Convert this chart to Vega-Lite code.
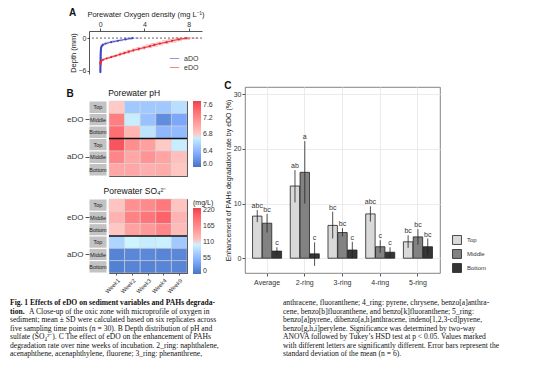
{
 "$schema": "https://vega.github.io/schema/vega-lite/v6.json",
 "padding": {"left": 10, "top": 8, "right": 2, "bottom": 2},
 "background": "white",
 "config": {
  "font": "Liberation Sans",
  "view": {"stroke": null},
  "axis": {"labelFontSize": 7, "titleFontSize": 7.5, "titleFontWeight": "normal", "labelColor": "#333", "titleColor": "#222", "domainColor": "#555", "tickColor": "#555", "tickSize": 3, "labelPadding": 1, "titlePadding": 2, "grid": false},
  "legend": {"labelFontSize": 7, "titleFontSize": 7, "titleFontWeight": "normal", "labelColor": "#333", "titleColor": "#222"},
  "title": {"fontSize": 10, "fontWeight": "bold", "color": "#111"}
 },
 "datasets": {
  "oxy": [
   {"t":"aDO","d":0,"m":2.9,"lo":2.2,"hi":3.6},
   {"t":"aDO","d":-0.25,"m":2.3,"lo":1.7,"hi":2.9},
   {"t":"aDO","d":-0.5,"m":1.6,"lo":1.1,"hi":2.1},
   {"t":"aDO","d":-0.75,"m":1.0,"lo":0.6,"hi":1.4},
   {"t":"aDO","d":-1.0,"m":0.5,"lo":0.2,"hi":0.8},
   {"t":"aDO","d":-1.25,"m":0.25,"lo":0.05,"hi":0.45},
   {"t":"aDO","d":-1.5,"m":0.15,"lo":0.05,"hi":0.25},
   {"t":"aDO","d":-1.75,"m":0.1,"lo":0.02,"hi":0.18},
   {"t":"aDO","d":-2.0,"m":0.08,"lo":0.03,"hi":0.13},
   {"t":"aDO","d":-2.25,"m":0.07,"lo":0.03,"hi":0.11},
   {"t":"aDO","d":-2.5,"m":0.06,"lo":0.02,"hi":0.1},
   {"t":"aDO","d":-2.75,"m":0.06,"lo":0.02,"hi":0.1},
   {"t":"aDO","d":-3.0,"m":0.05,"lo":0.02,"hi":0.08},
   {"t":"aDO","d":-3.25,"m":0.05,"lo":0.02,"hi":0.08},
   {"t":"aDO","d":-3.5,"m":0.05,"lo":0.02,"hi":0.08},
   {"t":"aDO","d":-3.75,"m":0.05,"lo":0.02,"hi":0.08},
   {"t":"aDO","d":-4.0,"m":0.04,"lo":0.01,"hi":0.07},
   {"t":"aDO","d":-4.25,"m":0.04,"lo":0.01,"hi":0.07},
   {"t":"aDO","d":-4.5,"m":0.04,"lo":0.02,"hi":0.06},
   {"t":"aDO","d":-4.75,"m":0.04,"lo":0.02,"hi":0.06},
   {"t":"aDO","d":-5.0,"m":0.04,"lo":0.02,"hi":0.06},
   {"t":"aDO","d":-5.25,"m":0.03,"lo":0.01,"hi":0.05},
   {"t":"aDO","d":-5.5,"m":0.03,"lo":0.01,"hi":0.05},
   {"t":"aDO","d":-5.75,"m":0.03,"lo":0.01,"hi":0.05},
   {"t":"aDO","d":-6.0,"m":0.03,"lo":0.01,"hi":0.05},
   {"t":"aDO","d":-6.25,"m":0.03,"lo":0.01,"hi":0.05},
   {"t":"eDO","d":0,"m":7.8,"lo":6.7,"hi":8.9},
   {"t":"eDO","d":-0.25,"m":7.1,"lo":6.1,"hi":8.1},
   {"t":"eDO","d":-0.5,"m":6.5,"lo":5.6,"hi":7.4},
   {"t":"eDO","d":-0.75,"m":6.0,"lo":5.1,"hi":6.9},
   {"t":"eDO","d":-1.0,"m":5.4,"lo":4.6,"hi":6.2},
   {"t":"eDO","d":-1.25,"m":4.9,"lo":4.1,"hi":5.7},
   {"t":"eDO","d":-1.5,"m":4.5,"lo":3.8,"hi":5.2},
   {"t":"eDO","d":-1.75,"m":4.0,"lo":3.3,"hi":4.7},
   {"t":"eDO","d":-2.0,"m":3.5,"lo":2.9,"hi":4.1},
   {"t":"eDO","d":-2.25,"m":3.0,"lo":2.4,"hi":3.6},
   {"t":"eDO","d":-2.5,"m":2.6,"lo":2.1,"hi":3.1},
   {"t":"eDO","d":-2.75,"m":2.2,"lo":1.7,"hi":2.7},
   {"t":"eDO","d":-3.0,"m":1.8,"lo":1.4,"hi":2.2},
   {"t":"eDO","d":-3.25,"m":1.4,"lo":1.0,"hi":1.8},
   {"t":"eDO","d":-3.5,"m":1.0,"lo":0.7,"hi":1.3},
   {"t":"eDO","d":-3.75,"m":0.6,"lo":0.3,"hi":0.9},
   {"t":"eDO","d":-4.0,"m":0.25,"lo":0.05,"hi":0.45},
   {"t":"eDO","d":-4.25,"m":0.1,"lo":0.0,"hi":0.2},
   {"t":"eDO","d":-4.5,"m":0.05,"lo":0.0,"hi":0.1},
   {"t":"eDO","d":-4.75,"m":0.03,"lo":0.0,"hi":0.06}
  ],
  "strip": [
   {"row":"eDO Top","p":"Top"},{"row":"eDO Middle","p":"Middle"},{"row":"eDO Bottom","p":"Bottom"},
   {"row":"aDO Top","p":"Top"},{"row":"aDO Middle","p":"Middle"},{"row":"aDO Bottom","p":"Bottom"}
  ],
  "divider": [{"row":"aDO Top"}],
  "ph": [
   {"row":"eDO Top","w":"Week1","v":6.8},{"row":"eDO Top","w":"Week2","v":6.5},{"row":"eDO Top","w":"Week3","v":6.5},{"row":"eDO Top","w":"Week4","v":6.5},{"row":"eDO Top","w":"Week9","v":6.62},
   {"row":"eDO Middle","w":"Week1","v":7.25},{"row":"eDO Middle","w":"Week2","v":6.7},{"row":"eDO Middle","w":"Week3","v":6.45},{"row":"eDO Middle","w":"Week4","v":6.15},{"row":"eDO Middle","w":"Week9","v":6.3},
   {"row":"eDO Bottom","w":"Week1","v":7.35},{"row":"eDO Bottom","w":"Week2","v":6.92},{"row":"eDO Bottom","w":"Week3","v":6.65},{"row":"eDO Bottom","w":"Week4","v":6.4},{"row":"eDO Bottom","w":"Week9","v":6.42},
   {"row":"aDO Top","w":"Week1","v":7.5},{"row":"aDO Top","w":"Week2","v":7.15},{"row":"aDO Top","w":"Week3","v":7.05},{"row":"aDO Top","w":"Week4","v":6.8},{"row":"aDO Top","w":"Week9","v":6.7},
   {"row":"aDO Middle","w":"Week1","v":7.2},{"row":"aDO Middle","w":"Week2","v":7.0},{"row":"aDO Middle","w":"Week3","v":7.12},{"row":"aDO Middle","w":"Week4","v":7.02},{"row":"aDO Middle","w":"Week9","v":6.85},
   {"row":"aDO Bottom","w":"Week1","v":7.0},{"row":"aDO Bottom","w":"Week2","v":7.0},{"row":"aDO Bottom","w":"Week3","v":6.95},{"row":"aDO Bottom","w":"Week4","v":6.98},{"row":"aDO Bottom","w":"Week9","v":6.82}
  ],
  "so4": [
   {"row":"eDO Top","w":"Week1","v":115},{"row":"eDO Top","w":"Week2","v":160},{"row":"eDO Top","w":"Week3","v":165},{"row":"eDO Top","w":"Week4","v":180},{"row":"eDO Top","w":"Week9","v":115},
   {"row":"eDO Middle","w":"Week1","v":130},{"row":"eDO Middle","w":"Week2","v":172},{"row":"eDO Middle","w":"Week3","v":182},{"row":"eDO Middle","w":"Week4","v":200},{"row":"eDO Middle","w":"Week9","v":128},
   {"row":"eDO Bottom","w":"Week1","v":112},{"row":"eDO Bottom","w":"Week2","v":145},{"row":"eDO Bottom","w":"Week3","v":152},{"row":"eDO Bottom","w":"Week4","v":168},{"row":"eDO Bottom","w":"Week9","v":122},
   {"row":"aDO Top","w":"Week1","v":78},{"row":"aDO Top","w":"Week2","v":102},{"row":"aDO Top","w":"Week3","v":95},{"row":"aDO Top","w":"Week4","v":98},{"row":"aDO Top","w":"Week9","v":68},
   {"row":"aDO Middle","w":"Week1","v":12},{"row":"aDO Middle","w":"Week2","v":15},{"row":"aDO Middle","w":"Week3","v":16},{"row":"aDO Middle","w":"Week4","v":14},{"row":"aDO Middle","w":"Week9","v":15},
   {"row":"aDO Bottom","w":"Week1","v":10},{"row":"aDO Bottom","w":"Week2","v":13},{"row":"aDO Bottom","w":"Week3","v":12},{"row":"aDO Bottom","w":"Week4","v":14},{"row":"aDO Bottom","w":"Week9","v":14}
  ],
  "pah": [
   {"c":"Average","p":"Top","m":7.7,"lo":6.6,"hi":8.8,"lab":"abc"},
   {"c":"Average","p":"Middle","m":6.4,"lo":4.7,"hi":8.1,"lab":"bc"},
   {"c":"Average","p":"Bottom","m":1.3,"lo":0.6,"hi":2.0,"lab":"c"},
   {"c":"2-ring","p":"Top","m":13.2,"lo":10.2,"hi":16.1,"lab":"ab"},
   {"c":"2-ring","p":"Middle","m":15.7,"lo":10.0,"hi":21.4,"lab":"a"},
   {"c":"2-ring","p":"Bottom","m":0.8,"lo":-1.4,"hi":2.9,"lab":"c"},
   {"c":"3-ring","p":"Top","m":6.0,"lo":3.6,"hi":8.5,"lab":"bc"},
   {"c":"3-ring","p":"Middle","m":4.7,"lo":4.0,"hi":5.5,"lab":"bc"},
   {"c":"3-ring","p":"Bottom","m":1.5,"lo":0.0,"hi":3.0,"lab":"c"},
   {"c":"4-ring","p":"Top","m":8.1,"lo":6.7,"hi":9.5,"lab":"abc"},
   {"c":"4-ring","p":"Middle","m":2.1,"lo":1.0,"hi":3.3,"lab":"c"},
   {"c":"4-ring","p":"Bottom","m":1.1,"lo":0.1,"hi":2.0,"lab":"c"},
   {"c":"5-ring","p":"Top","m":3.0,"lo":1.9,"hi":4.2,"lab":"bc"},
   {"c":"5-ring","p":"Middle","m":3.9,"lo":2.5,"hi":5.3,"lab":"bc"},
   {"c":"5-ring","p":"Bottom","m":2.1,"lo":0.6,"hi":3.6,"lab":"bc"}
  ],
  "cap": [
   {"col":"L","ln":1,"s":"b","txt":"Fig. 1 Effects of eDO on sediment variables and PAHs degrada-"},
   {"col":"L","ln":2,"s":"b","txt":"tion."},
   {"col":"L","ln":2,"s":"n2","txt":"A Close-up of the oxic zone with microprofile of oxygen in"},
   {"col":"L","ln":3,"s":"n","txt":"sediment; mean ± SD were calculated based on six replicates across"},
   {"col":"L","ln":4,"s":"n","txt":"five sampling time points (n = 30). B Depth distribution of pH and"},
   {"col":"L","ln":5,"s":"n","txt":"sulfate (SO₄²⁻). C The effect of eDO on the enhancement of PAHs"},
   {"col":"L","ln":6,"s":"n","txt":"degradation rate over nine weeks of incubation. 2_ring: naphthalene,"},
   {"col":"L","ln":7,"s":"n","txt":"acenaphthene,   acenaphthylene,   fluorene;   3_ring:   phenanthrene,"},
   {"col":"R","ln":1,"s":"n","txt":"anthracene, fluoranthene; 4_ring: pyrene, chrysene, benzo[a]anthra-"},
   {"col":"R","ln":2,"s":"n","txt":"cene, benzo[b]fluoranthene, and benzo[k]fluoranthene; 5_ring:"},
   {"col":"R","ln":3,"s":"n","txt":"benzo[a]pyrene, dibenzo[a,h]anthracene, indeno[1,2,3-cd]pyrene,"},
   {"col":"R","ln":4,"s":"n","txt":"benzo[g,h,i]perylene. Significance was determined by two-way"},
   {"col":"R","ln":5,"s":"n","txt":"ANOVA followed by Tukey’s HSD test at p < 0.05. Values marked"},
   {"col":"R","ln":6,"s":"n","txt":"with different letters are significantly different. Error bars represent the"},
   {"col":"R","ln":7,"s":"n","txt":"standard deviation of the mean (n = 6)."}
  ]
 },
 "spacing": 4,
 "resolve": {"scale": {"color": "independent", "fill": "independent"}, "legend": {"color": "independent", "fill": "independent"}},
 "vconcat": [
  {
   "spacing": 8,
   "resolve": {"scale": {"color": "independent", "fill": "independent"}, "legend": {"color": "independent", "fill": "independent"}},
   "hconcat": [
    {"width": 48, "height": 1, "data": {"values": []}, "mark": "point"},
    {
     "spacing": 14,
     "resolve": {"scale": {"color": "independent"}, "legend": {"color": "independent"}},
     "vconcat": [
      {
       "width": 113, "height": 43,
       "title": {"text": "A", "anchor": "start", "frame": "bounds", "offset": -8},
       "data": {"name": "oxy"},
       "layer": [
        {"data": {"values": [{"d": 0}]}, "mark": {"type": "rule", "strokeDash": [2, 2], "color": "#222", "strokeWidth": 0.7},
         "encoding": {"y": {"field": "d", "type": "quantitative"}}},
        {"mark": {"type": "rule", "strokeWidth": 0.6, "opacity": 0.55},
         "encoding": {
          "x": {"field": "lo", "type": "quantitative", "scale": {"domain": [-1, 9.2], "nice": false, "zero": false}, "axis": {"orient": "top", "values": [0, 2, 4, 6, 8], "title": "Porewater Oxygen density (mg L⁻¹)"}},
          "x2": {"field": "hi"},
          "y": {"field": "d", "type": "quantitative", "scale": {"domain": [-6.6, 1.3], "nice": false, "zero": false}, "axis": {"values": [0, -2, -4, -6], "title": "Depth (mm)", "titlePadding": 1, "tickSize": 2}},
          "color": {"field": "t", "type": "nominal", "scale": {"domain": ["aDO", "eDO"], "range": ["#3d45c2", "#e8262b"]},
           "legend": {"title": null, "orient": "bottom-right", "symbolType": "stroke", "symbolSize": 90, "symbolStrokeWidth": 1, "labelFontSize": 7, "offset": 2, "rowPadding": 0, "padding": 1}}
         }},
        {"mark": {"type": "line", "strokeWidth": 0.9},
         "encoding": {
          "x": {"field": "m", "type": "quantitative"},
          "y": {"field": "d", "type": "quantitative"},
          "order": {"field": "d", "sort": "descending"},
          "color": {"field": "t", "type": "nominal"}
         }},
        {"mark": {"type": "point", "filled": true, "size": 5, "opacity": 1},
         "encoding": {
          "x": {"field": "m", "type": "quantitative"},
          "y": {"field": "d", "type": "quantitative"},
          "color": {"field": "t", "type": "nominal"}
         }}
       ]
      },
      {
       "spacing": 9,
       "resolve": {"scale": {"color": "independent"}, "legend": {"color": "independent"}},
       "vconcat": [
        {
         "bounds": "flush",
         "spacing": 2,
         "hconcat": [
          {
           "width": 18, "height": 75,
           "title": {"text": "B", "anchor": "start", "frame": "bounds", "offset": 2},
           "data": {"name": "strip"},
           "encoding": {"y": {"field": "row", "type": "nominal", "sort": ["eDO Top", "eDO Middle", "eDO Bottom", "aDO Top", "aDO Middle", "aDO Bottom"], "scale": {"paddingInner": 0, "paddingOuter": 0},
             "axis": {"title": null, "domain": false, "labelFontSize": 8, "tickSize": 4, "labelPadding": 2,
              "labelExpr": "datum.value == 'eDO Middle' ? 'eDO' : (datum.value == 'aDO Middle' ? 'aDO' : '')",
              "tickOpacity": {"condition": {"test": "indexof(datum.value, 'Middle') >= 0", "value": 1}, "value": 0}}}},
           "layer": [
            {"mark": {"type": "rect", "fill": "#c2c2c2", "stroke": "white", "strokeWidth": 1}, "encoding": {}},
            {"mark": {"type": "text", "fontSize": 5.5, "color": "#222"}, "encoding": {"text": {"field": "p"}}}
           ]
          },
          {
           "width": 78, "height": 75,
           "view": {"stroke": "#333", "strokeWidth": 1},
           "title": {"text": "Porewater pH", "anchor": "start", "fontSize": 8.5, "fontWeight": "normal", "offset": 3},
           "layer": [
            {"data": {"name": "ph"}, "mark": {"type": "rect", "stroke": "#d4d4d4", "strokeWidth": 0.5},
             "encoding": {
              "x": {"field": "w", "type": "nominal", "sort": ["Week1", "Week2", "Week3", "Week4", "Week9"], "axis": null, "scale": {"paddingInner": 0, "paddingOuter": 0}},
              "y": {"field": "row", "type": "nominal", "sort": ["eDO Top", "eDO Middle", "eDO Bottom", "aDO Top", "aDO Middle", "aDO Bottom"], "axis": null, "scale": {"paddingInner": 0, "paddingOuter": 0}},
              "color": {"field": "v", "type": "quantitative", "scale": {"domain": [6.0, 6.8, 7.6], "range": ["#4575c4", "#ffffff", "#e5434f"]},
               "legend": {"title": null, "values": [6.0, 6.4, 6.8, 7.2, 7.6], "format": ".1f", "gradientLength": 66, "gradientThickness": 8, "offset": 4, "labelFontSize": 7}}
             }},
            {"data": {"name": "divider"}, "mark": {"type": "rule", "strokeWidth": 1.6, "color": "#111"},
             "encoding": {"y": {"field": "row", "type": "nominal", "bandPosition": 0, "sort": ["eDO Top", "eDO Middle", "eDO Bottom", "aDO Top", "aDO Middle", "aDO Bottom"]}}}
           ]
          }
         ]
        },
        {
         "bounds": "flush",
         "spacing": 2,
         "hconcat": [
          {
           "width": 18, "height": 74,
           "data": {"name": "strip"},
           "encoding": {"y": {"field": "row", "type": "nominal", "sort": ["eDO Top", "eDO Middle", "eDO Bottom", "aDO Top", "aDO Middle", "aDO Bottom"], "scale": {"paddingInner": 0, "paddingOuter": 0},
             "axis": {"title": null, "domain": false, "labelFontSize": 8, "tickSize": 4, "labelPadding": 2,
              "labelExpr": "datum.value == 'eDO Middle' ? 'eDO' : (datum.value == 'aDO Middle' ? 'aDO' : '')",
              "tickOpacity": {"condition": {"test": "indexof(datum.value, 'Middle') >= 0", "value": 1}, "value": 0}}}},
           "layer": [
            {"mark": {"type": "rect", "fill": "#c2c2c2", "stroke": "white", "strokeWidth": 1}, "encoding": {}},
            {"mark": {"type": "text", "fontSize": 5.5, "color": "#222"}, "encoding": {"text": {"field": "p"}}}
           ]
          },
          {
           "width": 78, "height": 74,
           "view": {"stroke": "#333", "strokeWidth": 1},
           "title": {"text": "Porewater SO₄²⁻", "anchor": "start", "fontSize": 8.5, "fontWeight": "normal", "offset": 3},
           "layer": [
            {"data": {"name": "so4"}, "mark": {"type": "rect", "stroke": "#d4d4d4", "strokeWidth": 0.5},
             "encoding": {
              "x": {"field": "w", "type": "nominal", "sort": ["Week1", "Week2", "Week3", "Week4", "Week9"], "scale": {"paddingInner": 0, "paddingOuter": 0},
               "axis": {"title": null, "labelAngle": -45, "domain": false, "labelFontSize": 5.8, "tickSize": 2, "labelPadding": 2}},
              "y": {"field": "row", "type": "nominal", "sort": ["eDO Top", "eDO Middle", "eDO Bottom", "aDO Top", "aDO Middle", "aDO Bottom"], "axis": null, "scale": {"paddingInner": 0, "paddingOuter": 0}},
              "color": {"field": "v", "type": "quantitative", "scale": {"domain": [0, 110, 226], "range": ["#4575c4", "#ffffff", "#e5434f"]},
               "legend": {"title": "(mg/L)", "values": [0, 55, 110, 165, 220], "gradientLength": 66, "gradientThickness": 8, "offset": 4, "labelFontSize": 7, "titleFontSize": 7, "titlePadding": 2}}
             }},
            {"data": {"name": "divider"}, "mark": {"type": "rule", "strokeWidth": 1.6, "color": "#111"},
             "encoding": {"y": {"field": "row", "type": "nominal", "bandPosition": 0, "sort": ["eDO Top", "eDO Middle", "eDO Bottom", "aDO Top", "aDO Middle", "aDO Bottom"]}}}
           ]
          }
         ]
        }
       ]
      }
     ]
    },
    {
     "spacing": 0,
     "resolve": {"scale": {"fill": "independent"}, "legend": {"fill": "independent"}},
     "vconcat": [
      {"width": 10, "height": 49, "data": {"values": []}, "mark": "point"},
      {
       "width": 195, "height": 186,
       "view": {"stroke": "#666", "strokeWidth": 0.8},
       "title": {"text": "C", "anchor": "start", "frame": "bounds", "offset": -4},
       "data": {"name": "pah"},
       "encoding": {
        "x": {"field": "c", "type": "nominal", "sort": ["Average", "2-ring", "3-ring", "4-ring", "5-ring"], "scale": {"paddingInner": 0.23, "paddingOuter": 0.2},
         "axis": {"title": null, "grid": true, "gridColor": "#ebebeb", "labelAngle": 0, "labelFontSize": 7, "domain": false, "labelPadding": 2}},
        "xOffset": {"field": "p", "type": "nominal", "sort": ["Top", "Middle", "Bottom"], "scale": {"paddingInner": 0.04}}
       },
       "layer": [
        {"mark": {"type": "bar", "stroke": "#222", "strokeWidth": 0.8},
         "encoding": {
          "y": {"field": "m", "type": "quantitative", "scale": {"domain": [-2.7, 31.3], "nice": false},
           "axis": {"values": [0, 10, 20, 30], "grid": true, "gridColor": "#ebebeb", "title": "Enhancement of PAHs degradation rate by eDO (%)", "domain": false, "titleFontSize": 7}},
          "fill": {"field": "p", "type": "nominal", "scale": {"domain": ["Top", "Middle", "Bottom"], "range": ["#d9d9d9", "#828282", "#353535"]},
           "legend": {"title": null, "orient": "none", "legendX": 207, "legendY": 148, "symbolType": "square", "symbolSize": 80, "labelFontSize": 6, "rowPadding": 0, "symbolStrokeColor": "#222", "symbolStrokeWidth": 0.8, "labelOffset": 5}}
         }},
        {"mark": {"type": "rule", "strokeWidth": 0.8, "color": "#222"},
         "encoding": {"y": {"field": "lo", "type": "quantitative"}, "y2": {"field": "hi"}}},
        {"mark": {"type": "text", "fontSize": 7, "dy": -4, "fill": "#333"},
         "encoding": {"y": {"field": "hi", "type": "quantitative"}, "text": {"field": "lab"}}}
       ]
      }
     ]
    }
   ]
  },
  {
   "width": 273, "height": 51,
   "data": {"name": "cap"},
   "encoding": {
    "x": {"field": "col", "type": "nominal", "axis": null, "scale": {"type": "point", "domain": ["L", "R"], "padding": 0}},
    "y": {"field": "ln", "type": "quantitative", "axis": null, "scale": {"domain": [1, 7], "reverse": true, "nice": false, "zero": false}}
   },
   "layer": [
    {"transform": [{"filter": "datum.s == 'b'"}], "mark": {"type": "text", "font": "Liberation Serif", "fontSize": 7.6, "fontWeight": "bold", "align": "left", "baseline": "middle", "color": "#111"}, "encoding": {"text": {"field": "txt"}}},
    {"transform": [{"filter": "datum.s == 'n'"}], "mark": {"type": "text", "font": "Liberation Serif", "fontSize": 7.6, "align": "left", "baseline": "middle", "color": "#111"}, "encoding": {"text": {"field": "txt"}}},
    {"transform": [{"filter": "datum.s == 'n2'"}], "mark": {"type": "text", "font": "Liberation Serif", "fontSize": 7.6, "align": "left", "baseline": "middle", "color": "#111", "dx": 19}, "encoding": {"text": {"field": "txt"}}}
   ]
  }
 ]
}
